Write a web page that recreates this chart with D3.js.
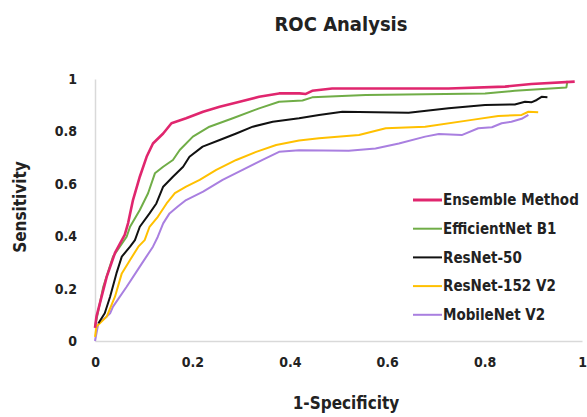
<!DOCTYPE html>
<html>
<head>
<meta charset="utf-8">
<script src="https://cdn.jsdelivr.net/npm/d3@7"></script>
<style>
  body { margin: 0; background: #fff; }
  svg text { font-family: "DejaVu Sans Condensed", "DejaVu Sans", sans-serif; font-stretch: condensed; font-weight: bold; fill: #222; }
</style>
</head>
<body>
<svg width="587" height="417"></svg>
<script>
// series names and colours (legend order)
var seriesNames = ["Ensemble Method", "EfficientNet B1", "ResNet-50", "ResNet-152 V2", "MobileNet V2"];
var seriesColors = ["#e0266e", "#70ad47", "#111111", "#ffc000", "#a97fe0"];

// ROC points: [1-specificity, sensitivity]
var ensemble = [[0,0.05],[0.003,0.093],[0.024,0.245],[0.041,0.336],[0.061,0.405],[0.068,0.45],[0.078,0.538],
  [0.092,0.627],[0.106,0.703],[0.119,0.754],[0.14,0.792],[0.157,0.831],[0.187,0.85],[0.222,0.875],[0.256,0.894],
  [0.297,0.913],[0.337,0.932],[0.378,0.945],[0.42,0.945],[0.433,0.943],[0.446,0.955],[0.487,0.964],[0.624,0.964],
  [0.726,0.964],[0.842,0.971],[0.896,0.981],[0.985,0.99]];
var efficientNet = [[0,0.055],[0.017,0.207],[0.037,0.322],[0.065,0.398],[0.072,0.436],[0.092,0.5],[0.109,0.564],
  [0.123,0.64],[0.14,0.665],[0.16,0.691],[0.174,0.729],[0.201,0.78],[0.235,0.818],[0.283,0.85],[0.337,0.888],
  [0.378,0.913],[0.426,0.918],[0.446,0.93],[0.556,0.939],[0.801,0.945],[0.862,0.955],[0.968,0.968],[0.97,0.993]];
var resNet50 = [[0.007,0.068],[0.02,0.106],[0.031,0.169],[0.044,0.258],[0.055,0.322],[0.072,0.36],[0.082,0.385],
  [0.092,0.436],[0.112,0.487],[0.126,0.525],[0.14,0.589],[0.16,0.627],[0.181,0.665],[0.194,0.703],[0.221,0.742],
  [0.256,0.767],[0.29,0.792],[0.324,0.818],[0.365,0.837],[0.419,0.85],[0.46,0.863],[0.508,0.875],[0.644,0.871],
  [0.726,0.888],[0.801,0.901],[0.862,0.903],[0.883,0.913],[0.896,0.911],[0.907,0.92],[0.917,0.932],[0.929,0.93]];
var resNet152 = [[0,0.016],[0.003,0.055],[0.024,0.093],[0.041,0.169],[0.055,0.258],[0.072,0.309],[0.089,0.36],
  [0.102,0.385],[0.112,0.436],[0.129,0.474],[0.147,0.525],[0.164,0.564],[0.187,0.589],[0.215,0.615],[0.249,0.653],
  [0.29,0.691],[0.331,0.722],[0.372,0.748],[0.419,0.765],[0.46,0.774],[0.542,0.786],[0.597,0.812],[0.678,0.818],
  [0.774,0.844],[0.828,0.859],[0.876,0.863],[0.89,0.875],[0.91,0.873]];
var mobileNet = [[0,0],[0.007,0.068],[0.024,0.093],[0.031,0.106],[0.037,0.131],[0.065,0.207],[0.092,0.284],
  [0.119,0.36],[0.129,0.398],[0.14,0.449],[0.153,0.487],[0.17,0.513],[0.187,0.538],[0.222,0.57],[0.262,0.615],
  [0.303,0.653],[0.344,0.691],[0.378,0.722],[0.419,0.728],[0.521,0.726],[0.576,0.735],[0.624,0.754],[0.678,0.78],
  [0.706,0.79],[0.753,0.786],[0.787,0.812],[0.815,0.816],[0.835,0.831],[0.855,0.837],[0.876,0.848],[0.89,0.863]];

var xTicks = [0, 0.2, 0.4, 0.6, 0.8, 1];
var yTicks = [0, 0.2, 0.4, 0.6, 0.8, 1];

var allSeries = [ensemble, efficientNet, resNet50, resNet152, mobileNet];

var svg = d3.select("svg");
var margin = {left: 95, right: 5, top: 79, bottom: 76};
var width = 587 - margin.left - margin.right;
var height = 417 - margin.top - margin.bottom;

var x = d3.scaleLinear().domain([0, 1]).range([margin.left, margin.left + width]);
var y = d3.scaleLinear().domain([0, 1]).range([margin.top + height, margin.top]);

// title
svg.append("text")
    .attr("x", 341).attr("y", 31)
    .attr("text-anchor", "middle")
    .style("font-size", "20px")
    .text("ROC Analysis");

// axes
var xAxis = svg.append("g")
    .attr("transform", "translate(0," + y(0) + ")")
    .call(d3.axisBottom(x).tickValues(xTicks).tickSize(0).tickPadding(16).tickFormat(d3.format("")));
var yAxis = svg.append("g")
    .attr("transform", "translate(" + x(0) + ",0)")
    .call(d3.axisLeft(y).tickValues(yTicks).tickSize(0).tickPadding(18).tickFormat(d3.format("")));

[xAxis, yAxis].forEach(function (a) {
    a.select(".domain").attr("stroke", "#d9d9d9").attr("stroke-width", 1.5);
    a.selectAll(".tick text").style("font-size", "14px").style("font-family", null).attr("fill", "#222");
});

// axis titles
svg.append("text")
    .attr("x", 346).attr("y", 409)
    .attr("text-anchor", "middle")
    .style("font-size", "17px")
    .text("1-Specificity");
svg.append("text")
    .attr("transform", "translate(26,207) rotate(-90)")
    .attr("text-anchor", "middle")
    .style("font-size", "17px")
    .text("Sensitivity");

// curves (draw back to front so pink ends on top)
var line = d3.line().x(function (d) { return x(d[0]); }).y(function (d) { return y(d[1]); });
var order = [4, 3, 2, 1, 0];
svg.append("g").selectAll("path")
    .data(order)
    .enter().append("path")
    .attr("d", function (i) { return line(allSeries[i]); })
    .attr("fill", "none")
    .attr("stroke", function (i) { return seriesColors[i]; })
    .attr("stroke-width", function (i) { return i == 0 ? 2.6 : 2; })
    .attr("stroke-linejoin", "round");

// legend
var legend = svg.append("g").selectAll("g")
    .data(seriesNames)
    .enter().append("g")
    .attr("transform", function (d, i) { return "translate(413," + (200 + i * 28.7) + ")"; });
legend.append("line")
    .attr("x1", 0).attr("x2", 29)
    .attr("stroke", function (d, i) { return seriesColors[i]; })
    .attr("stroke-width", function (d, i) { return i == 0 ? 3 : 2; });
legend.append("text")
    .attr("x", 30).attr("dy", "0.35em")
    .style("font-size", "15px")
    .text(function (d) { return d; });
</script>
</body>
</html>
